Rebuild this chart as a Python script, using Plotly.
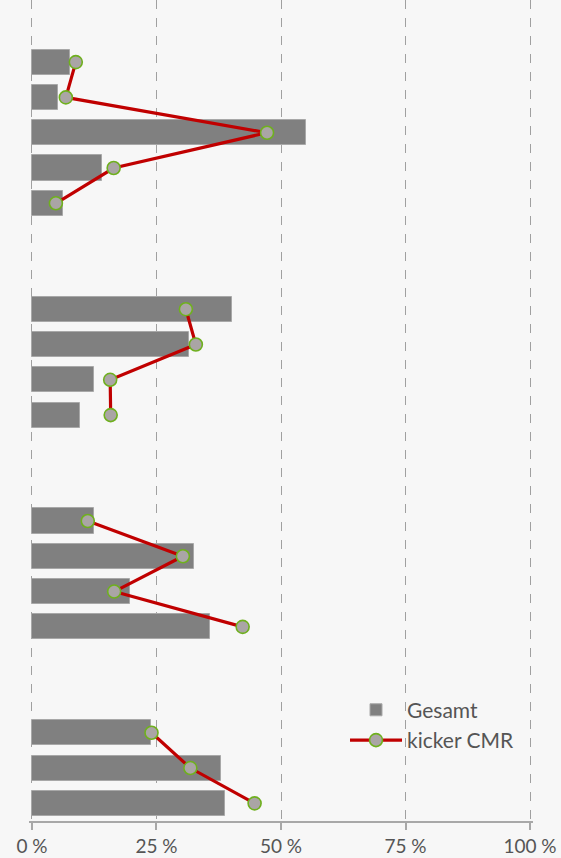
import plotly.graph_objects as go

# Row slots (top to bottom); None marks the empty slots between groups
rows = list(range(22))
gesamt = [7.6, 5.3, 55.0, 14.1, 6.2, None, None,
          40.2, 31.6, 12.5, 9.6, None, None,
          12.5, 32.6, 19.6, 35.7, None, None,
          23.9, 38.0, 38.8]
kicker_cmr = [8.8, 6.8, 47.2, 16.4, 4.8, None, None,
              30.9, 32.9, 15.7, 15.8, None, None,
              11.2, 30.3, 16.5, 42.3, None, None,
              24.0, 31.8, 44.7]
tick_vals = [0, 25, 50, 75, 100]
tick_text = ["0 %", "25 %", "50 %", "75 %", "100 %"]

fig = go.Figure()
fig.add_trace(go.Bar(
    x=gesamt, y=rows, orientation="h", name="Gesamt",
    width=0.71,
    marker=dict(color="#808080", line=dict(color="#a8a8a8", width=1)),
))
fig.add_trace(go.Scatter(
    x=kicker_cmr, y=rows, mode="lines+markers", name="kicker CMR",
    connectgaps=False,
    line=dict(color="#c00000", width=3.2),
    marker=dict(size=13, color="#aaa5a5", line=dict(color="#6fb01e", width=1.6)),
))

fig.update_layout(
    width=561, height=858,
    margin=dict(l=29, r=28, t=0, b=37),
    paper_bgcolor="#f7f7f7", plot_bgcolor="#f7f7f7",
    font=dict(family="Lato, sans-serif", size=19, color="#555555"),
    showlegend=True,
    legend=dict(x=0.627, y=0.16, xanchor="left", yanchor="top",
                bgcolor="rgba(0,0,0,0)", font=dict(size=21, color="#555555"),
                itemwidth=52, tracegroupgap=0),
    bargap=0,
)
fig.update_xaxes(
    range=[-0.6, 100.6], tickvals=tick_vals, ticktext=tick_text,
    showgrid=True, gridcolor="#a0a0a0", griddash="dash", gridwidth=1,
    zeroline=False,
    showline=True, linecolor="#a8a8a8", linewidth=1.5,
    ticks="outside", ticklen=7, tickcolor="#a8a8a8", tickwidth=1.5,
    tickfont=dict(size=19, color="#555555"),
)
fig.update_yaxes(
    range=[21.5, -1.76], showticklabels=False, showgrid=False,
    zeroline=False, showline=False, ticks="",
)

fig.write_html("out.html", config={"displayModeBar": False},
               post_script="document.body.style.margin='0px';document.body.style.background='#f7f7f7';")
